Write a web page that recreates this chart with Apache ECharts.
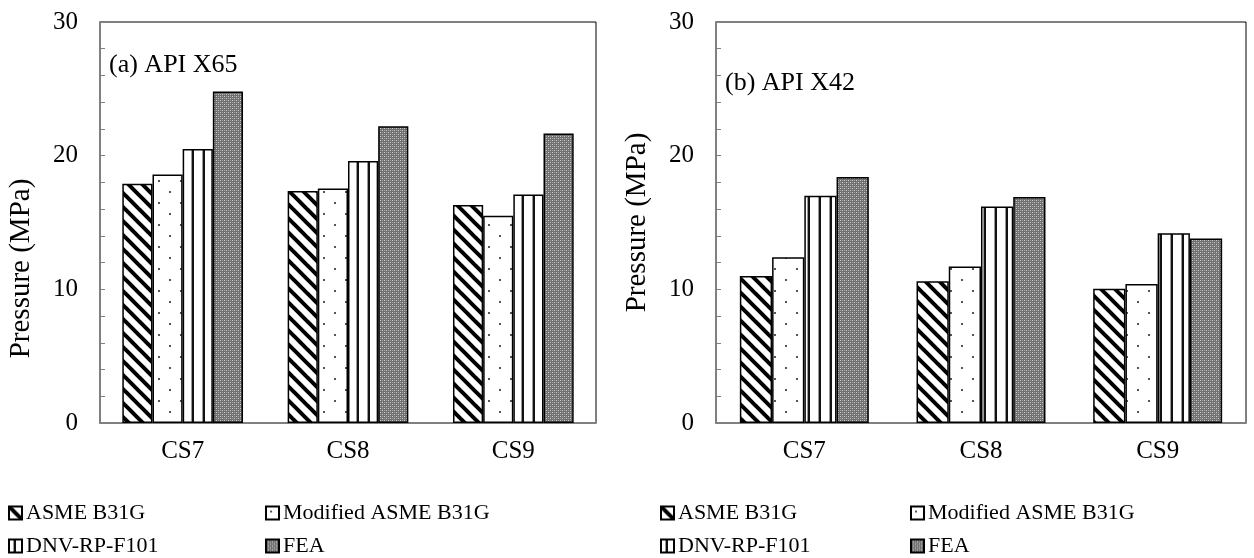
<!DOCTYPE html>
<html><head><meta charset="utf-8">
<script src="https://cdn.jsdelivr.net/npm/echarts@6/dist/echarts.min.js"></script>
<style>html,body{margin:0;padding:0;background:#fff}#c{width:1254px;height:558px}</style>
</head><body><div id="c"></div>
<script>
const categories = ['CS7', 'CS8', 'CS9'];
const seriesNames = ['ASME B31G', 'Modified ASME B31G', 'DNV-RP-F101', 'FEA'];
const x65_asme = [17.9, 17.35, 16.3];
const x65_mod  = [18.6, 17.55, 15.5];
const x65_dnv  = [20.5, 19.6, 17.1];
const x65_fea  = [24.8, 22.2, 21.65];
const x42_asme = [11.0, 10.6, 10.05];
const x42_mod  = [12.4, 11.7, 10.4];
const x42_dnv  = [17.0, 16.2, 14.2];
const x42_fea  = [18.4, 16.9, 13.8];
const yTicks = [0, 10, 20, 30];

const FONT = '"Liberation Serif", "Times New Roman", serif';

function tile(w, h, draw) {
  const c = document.createElement('canvas');
  c.width = w; c.height = h;
  const g = c.getContext('2d');
  draw(g, w, h);
  return { image: c, repeat: 'repeat' };
}
const patDiag = tile(14, 14, (g, w, h) => {
  g.fillStyle = '#fff'; g.fillRect(0, 0, w, h);
  g.strokeStyle = '#000'; g.lineWidth = 4;
  for (const o of [-14, 0, 14]) {
    g.beginPath(); g.moveTo(o - 2, -2); g.lineTo(o + 16, 16); g.stroke();
  }
});
const patDots = tile(22, 22, (g, w, h) => {
  g.fillStyle = '#fff'; g.fillRect(0, 0, w, h);
  g.fillStyle = '#555';
  g.fillRect(4, 4, 2, 2); g.fillRect(15, 15, 2, 2);
});
const patVert = tile(11, 4, (g, w, h) => {
  g.fillStyle = '#fff'; g.fillRect(0, 0, w, h);
  g.fillStyle = '#111'; g.fillRect(5, 0, 2, h);
  g.fillStyle = '#999'; g.fillRect(4, 0, 1, h);
});
const patFea = tile(4, 4, (g, w, h) => {
  g.fillStyle = '#707070'; g.fillRect(0, 0, w, h);
  g.fillStyle = '#d0d0d0';
  g.fillRect(0, 0, 1, 1); g.fillRect(2, 2, 1, 1);
  g.fillStyle = '#a0a0a0';
  g.fillRect(2, 0, 1, 1); g.fillRect(0, 2, 1, 1);
});
const patterns = [patDiag, patDots, patVert, patFea];

const grids = [
  { left: 100, right: 658, top: 22, bottom: 135, show: true, borderColor: '#000', borderWidth: 1 },
  { left: 716, right: 8, top: 22, bottom: 135, show: true, borderColor: '#000', borderWidth: 1 }
];
function xAx(i) {
  return {
    type: 'category', gridIndex: i, data: categories,
    axisLine: { lineStyle: { color: '#808080', width: 2 } },
    axisTick: { show: false },
    axisLabel: { color: '#000', fontFamily: FONT, fontSize: 25, margin: 16 }
  };
}
function yAx(i, namePad) {
  return {
    type: 'value', gridIndex: i, min: 0, max: 30, interval: 10,
    name: 'Pressure (MPa)', nameLocation: 'middle', nameGap: 64,
    nameTextStyle: { color: '#000', fontFamily: FONT, fontSize: 29, padding: namePad },
    axisLine: { show: true, lineStyle: { color: '#808080', width: 2 } },
    axisTick: { show: true, inside: true, length: 5, lineStyle: { color: '#808080' } },
    minorTick: { show: true, splitNumber: 5, length: 5, lineStyle: { color: '#808080' } },
    splitLine: { show: false },
    axisLabel: { color: '#000', fontFamily: FONT, fontSize: 25, margin: 22,
      formatter: v => yTicks.includes(v) ? String(v) : '' }
  };
}
const dataA = [x65_asme, x65_mod, x65_dnv, x65_fea];
const dataB = [x42_asme, x42_mod, x42_dnv, x42_fea];
const series = [];
[dataA, dataB].forEach((set, gi) => {
  set.forEach((d, k) => {
    series.push({
      type: 'bar', name: seriesNames[k], xAxisIndex: gi, yAxisIndex: gi, data: d,
      barGap: '0%', barCategoryGap: '27%',
      itemStyle: { color: patterns[k], borderColor: '#000', borderWidth: 1.5 },
      emphasis: { disabled: true }
    });
  });
});
const legPos = [
  [3, 497], [260, 497], [3, 530], [260, 530],
  [655, 497], [905, 497], [655, 530], [905, 530]
];
const legends = legPos.map((p, i) => ({
  data: [seriesNames[i % 4]], left: p[0], top: p[1], orient: 'horizontal',
  itemWidth: 13, itemHeight: 13, itemGap: 4, icon: 'rect',
  textStyle: { color: '#000', fontFamily: FONT, fontSize: 22, padding: [0, 0, 0, -1] },
  selectedMode: false
}));
const chart = echarts.init(document.getElementById('c'));
chart.setOption({
  animation: false,
  backgroundColor: '#fff',
  title: [
    { text: '(a) API X65', left: 104, top: 47, textStyle: { fontFamily: FONT, fontSize: 26, fontWeight: 'normal', color: '#000' } },
    { text: '(b) API X42', left: 720, top: 65, textStyle: { fontFamily: FONT, fontSize: 26, fontWeight: 'normal', color: '#000' } }
  ],
  grid: grids,
  xAxis: [xAx(0), xAx(1)],
  yAxis: [yAx(0, [0, 92, 0, 0]), yAx(1, 0)],
  legend: legends,
  series: series
});
</script></body></html>
